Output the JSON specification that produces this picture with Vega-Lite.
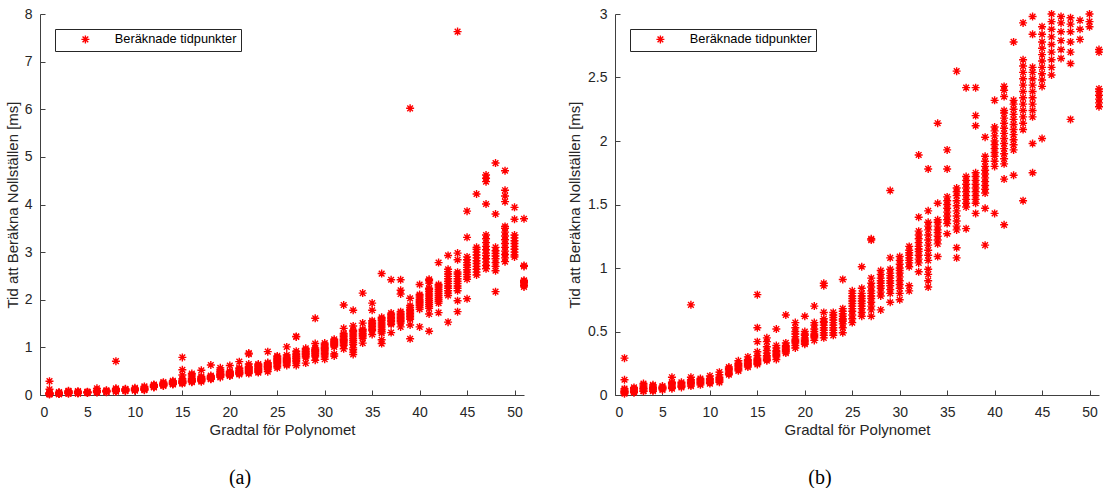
{
"$schema": "https://vega.github.io/schema/vega-lite/v6.json",
"padding": {"left": 5, "top": 7, "right": 0, "bottom": 0},
"spacing": 36,
"config": {
  "view": {"stroke": null},
  "axis": {"grid": false, "domainColor": "#404040", "domainWidth": 1, "tickColor": "#404040", "tickWidth": 1, "tickSize": -5,
    "labelFont": "Liberation Sans", "labelFontSize": 14, "labelColor": "#262626",
    "titleFont": "Liberation Sans", "titleFontSize": 15, "titleFontWeight": "normal", "titleColor": "#262626"},
  "axisX": {"labelPadding": 15, "minExtent": 25, "maxExtent": 25, "titlePadding": 2},
  "axisY": {"labelPadding": 13, "titlePadding": 3},
  "legend": {"orient": "top-left", "offset": 15, "strokeColor": "#262626", "fillColor": "white", "padding": 4,
    "labelFont": "Liberation Sans", "labelFontSize": 12.8, "labelColor": "black", "symbolOffset": 20, "labelOffset": 23,
    "symbolType": "M-1,0L1,0M0,-1L0,1M-0.71,-0.71L0.71,0.71M-0.71,0.71L0.71,-0.71", "symbolSize": 64, "symbolStrokeColor": "#ff0000", "symbolStrokeWidth": 1.4, "symbolFillColor": "transparent"},
  "title": {"font": "Liberation Serif", "fontSize": 20, "fontWeight": "normal", "color": "black"}
},
"datasets": {"pts": [
{"n":1,"t":0.01},{"n":1,"t":0.02},{"n":1,"t":0.02},{"n":1,"t":0.03},{"n":1,"t":0.03},{"n":1,"t":0.04},{"n":1,"t":0.05},{"n":1,"t":0.12},{"n":1,"t":0.29},
{"n":2,"t":0.02},{"n":2,"t":0.02},{"n":2,"t":0.03},{"n":2,"t":0.03},{"n":2,"t":0.04},{"n":2,"t":0.04},{"n":2,"t":0.05},{"n":2,"t":0.06},
{"n":3,"t":0.03},{"n":3,"t":0.03},{"n":3,"t":0.04},{"n":3,"t":0.05},{"n":3,"t":0.05},{"n":3,"t":0.06},{"n":3,"t":0.07},{"n":3,"t":0.08},{"n":3,"t":0.09},
{"n":4,"t":0.03},{"n":4,"t":0.04},{"n":4,"t":0.04},{"n":4,"t":0.05},{"n":4,"t":0.06},{"n":4,"t":0.07},{"n":4,"t":0.08},
{"n":5,"t":0.04},{"n":5,"t":0.05},{"n":5,"t":0.05},{"n":5,"t":0.06},{"n":5,"t":0.06},{"n":5,"t":0.07},
{"n":6,"t":0.05},{"n":6,"t":0.06},{"n":6,"t":0.07},{"n":6,"t":0.08},{"n":6,"t":0.09},{"n":6,"t":0.10},{"n":6,"t":0.14},
{"n":7,"t":0.06},{"n":7,"t":0.07},{"n":7,"t":0.07},{"n":7,"t":0.08},{"n":7,"t":0.09},{"n":7,"t":0.10},
{"n":8,"t":0.07},{"n":8,"t":0.08},{"n":8,"t":0.09},{"n":8,"t":0.10},{"n":8,"t":0.11},{"n":8,"t":0.12},{"n":8,"t":0.14},{"n":8,"t":0.71},
{"n":9,"t":0.08},{"n":9,"t":0.09},{"n":9,"t":0.10},{"n":9,"t":0.11},{"n":9,"t":0.12},{"n":9,"t":0.13},
{"n":10,"t":0.09},{"n":10,"t":0.10},{"n":10,"t":0.11},{"n":10,"t":0.12},{"n":10,"t":0.13},{"n":10,"t":0.15},
{"n":11,"t":0.10},{"n":11,"t":0.11},{"n":11,"t":0.12},{"n":11,"t":0.13},{"n":11,"t":0.14},{"n":11,"t":0.16},{"n":11,"t":0.18},
{"n":12,"t":0.16},{"n":12,"t":0.17},{"n":12,"t":0.18},{"n":12,"t":0.19},{"n":12,"t":0.20},{"n":12,"t":0.21},{"n":12,"t":0.22},
{"n":13,"t":0.19},{"n":13,"t":0.20},{"n":13,"t":0.21},{"n":13,"t":0.22},{"n":13,"t":0.23},{"n":13,"t":0.24},{"n":13,"t":0.25},{"n":13,"t":0.27},
{"n":14,"t":0.22},{"n":14,"t":0.23},{"n":14,"t":0.24},{"n":14,"t":0.25},{"n":14,"t":0.26},{"n":14,"t":0.27},{"n":14,"t":0.28},{"n":14,"t":0.30},
{"n":15,"t":0.24},{"n":15,"t":0.25},{"n":15,"t":0.26},{"n":15,"t":0.27},{"n":15,"t":0.28},{"n":15,"t":0.29},{"n":15,"t":0.31},{"n":15,"t":0.34},{"n":15,"t":0.42},{"n":15,"t":0.53},{"n":15,"t":0.79},
{"n":16,"t":0.27},{"n":16,"t":0.28},{"n":16,"t":0.29},{"n":16,"t":0.30},{"n":16,"t":0.31},{"n":16,"t":0.33},{"n":16,"t":0.35},{"n":16,"t":0.38},{"n":16,"t":0.42},{"n":16,"t":0.45},
{"n":17,"t":0.28},{"n":17,"t":0.30},{"n":17,"t":0.31},{"n":17,"t":0.32},{"n":17,"t":0.33},{"n":17,"t":0.34},{"n":17,"t":0.35},{"n":17,"t":0.37},{"n":17,"t":0.39},{"n":17,"t":0.52},
{"n":18,"t":0.33},{"n":18,"t":0.34},{"n":18,"t":0.35},{"n":18,"t":0.36},{"n":18,"t":0.37},{"n":18,"t":0.38},{"n":18,"t":0.39},{"n":18,"t":0.41},{"n":18,"t":0.63},
{"n":19,"t":0.37},{"n":19,"t":0.39},{"n":19,"t":0.41},{"n":19,"t":0.42},{"n":19,"t":0.43},{"n":19,"t":0.44},{"n":19,"t":0.46},{"n":19,"t":0.48},{"n":19,"t":0.50},{"n":19,"t":0.53},{"n":19,"t":0.57},
{"n":20,"t":0.40},{"n":20,"t":0.41},{"n":20,"t":0.42},{"n":20,"t":0.43},{"n":20,"t":0.44},{"n":20,"t":0.45},{"n":20,"t":0.47},{"n":20,"t":0.48},{"n":20,"t":0.50},{"n":20,"t":0.62},
{"n":21,"t":0.43},{"n":21,"t":0.45},{"n":21,"t":0.46},{"n":21,"t":0.47},{"n":21,"t":0.48},{"n":21,"t":0.50},{"n":21,"t":0.52},{"n":21,"t":0.55},{"n":21,"t":0.57},{"n":21,"t":0.70},
{"n":22,"t":0.45},{"n":22,"t":0.47},{"n":22,"t":0.49},{"n":22,"t":0.51},{"n":22,"t":0.53},{"n":22,"t":0.55},{"n":22,"t":0.57},{"n":22,"t":0.58},{"n":22,"t":0.60},{"n":22,"t":0.65},{"n":22,"t":0.86},{"n":22,"t":0.88},
{"n":23,"t":0.47},{"n":23,"t":0.49},{"n":23,"t":0.51},{"n":23,"t":0.53},{"n":23,"t":0.55},{"n":23,"t":0.57},{"n":23,"t":0.59},{"n":23,"t":0.61},{"n":23,"t":0.63},{"n":23,"t":0.65},
{"n":24,"t":0.49},{"n":24,"t":0.53},{"n":24,"t":0.56},{"n":24,"t":0.58},{"n":24,"t":0.59},{"n":24,"t":0.60},{"n":24,"t":0.62},{"n":24,"t":0.64},{"n":24,"t":0.66},{"n":24,"t":0.68},{"n":24,"t":0.91},
{"n":25,"t":0.57},{"n":25,"t":0.60},{"n":25,"t":0.63},{"n":25,"t":0.66},{"n":25,"t":0.68},{"n":25,"t":0.70},{"n":25,"t":0.72},{"n":25,"t":0.74},{"n":25,"t":0.76},{"n":25,"t":0.78},{"n":25,"t":0.80},{"n":25,"t":0.82},
{"n":26,"t":0.62},{"n":26,"t":0.65},{"n":26,"t":0.68},{"n":26,"t":0.70},{"n":26,"t":0.72},{"n":26,"t":0.74},{"n":26,"t":0.76},{"n":26,"t":0.78},{"n":26,"t":0.80},{"n":26,"t":0.84},{"n":26,"t":1.01},
{"n":27,"t":0.62},{"n":27,"t":0.67},{"n":27,"t":0.70},{"n":27,"t":0.73},{"n":27,"t":0.76},{"n":27,"t":0.78},{"n":27,"t":0.80},{"n":27,"t":0.82},{"n":27,"t":0.85},{"n":27,"t":0.88},{"n":27,"t":0.92},{"n":27,"t":1.22},{"n":27,"t":1.23},
{"n":28,"t":0.67},{"n":28,"t":0.78},{"n":28,"t":0.81},{"n":28,"t":0.84},{"n":28,"t":0.86},{"n":28,"t":0.88},{"n":28,"t":0.90},{"n":28,"t":0.92},{"n":28,"t":0.95},{"n":28,"t":0.98},
{"n":29,"t":0.73},{"n":29,"t":0.80},{"n":29,"t":0.83},{"n":29,"t":0.86},{"n":29,"t":0.88},{"n":29,"t":0.90},{"n":29,"t":0.92},{"n":29,"t":0.94},{"n":29,"t":0.96},{"n":29,"t":0.99},{"n":29,"t":1.08},{"n":29,"t":1.61},
{"n":30,"t":0.75},{"n":30,"t":0.80},{"n":30,"t":0.84},{"n":30,"t":0.87},{"n":30,"t":0.90},{"n":30,"t":0.93},{"n":30,"t":0.96},{"n":30,"t":0.98},{"n":30,"t":1.00},{"n":30,"t":1.03},{"n":30,"t":1.06},{"n":30,"t":1.09},
{"n":31,"t":0.82},{"n":31,"t":0.86},{"n":31,"t":1.01},{"n":31,"t":1.04},{"n":31,"t":1.06},{"n":31,"t":1.08},{"n":31,"t":1.10},{"n":31,"t":1.12},{"n":31,"t":1.14},{"n":31,"t":1.17},
{"n":32,"t":0.97},{"n":32,"t":1.04},{"n":32,"t":1.07},{"n":32,"t":1.10},{"n":32,"t":1.13},{"n":32,"t":1.15},{"n":32,"t":1.17},{"n":32,"t":1.20},{"n":32,"t":1.23},{"n":32,"t":1.26},{"n":32,"t":1.29},{"n":32,"t":1.40},{"n":32,"t":1.89},
{"n":33,"t":0.85},{"n":33,"t":0.90},{"n":33,"t":0.95},{"n":33,"t":0.99},{"n":33,"t":1.06},{"n":33,"t":1.10},{"n":33,"t":1.14},{"n":33,"t":1.18},{"n":33,"t":1.22},{"n":33,"t":1.26},{"n":33,"t":1.30},{"n":33,"t":1.33},{"n":33,"t":1.36},{"n":33,"t":1.45},{"n":33,"t":1.78},
{"n":34,"t":1.09},{"n":34,"t":1.19},{"n":34,"t":1.22},{"n":34,"t":1.25},{"n":34,"t":1.28},{"n":34,"t":1.30},{"n":34,"t":1.33},{"n":34,"t":1.36},{"n":34,"t":1.38},{"n":34,"t":1.51},{"n":34,"t":2.14},
{"n":35,"t":1.27},{"n":35,"t":1.35},{"n":35,"t":1.38},{"n":35,"t":1.41},{"n":35,"t":1.44},{"n":35,"t":1.47},{"n":35,"t":1.50},{"n":35,"t":1.53},{"n":35,"t":1.56},{"n":35,"t":1.78},{"n":35,"t":1.93},
{"n":36,"t":1.08},{"n":36,"t":1.16},{"n":36,"t":1.30},{"n":36,"t":1.33},{"n":36,"t":1.37},{"n":36,"t":1.41},{"n":36,"t":1.45},{"n":36,"t":1.49},{"n":36,"t":1.53},{"n":36,"t":1.57},{"n":36,"t":1.60},{"n":36,"t":1.63},{"n":36,"t":2.55},
{"n":37,"t":1.31},{"n":37,"t":1.48},{"n":37,"t":1.51},{"n":37,"t":1.54},{"n":37,"t":1.57},{"n":37,"t":1.60},{"n":37,"t":1.63},{"n":37,"t":1.66},{"n":37,"t":1.69},{"n":37,"t":1.72},{"n":37,"t":2.42},
{"n":38,"t":1.43},{"n":38,"t":1.51},{"n":38,"t":1.54},{"n":38,"t":1.57},{"n":38,"t":1.60},{"n":38,"t":1.63},{"n":38,"t":1.66},{"n":38,"t":1.69},{"n":38,"t":1.72},{"n":38,"t":1.75},{"n":38,"t":2.12},{"n":38,"t":2.20},{"n":38,"t":2.42},
{"n":39,"t":1.18},{"n":39,"t":1.47},{"n":39,"t":1.59},{"n":39,"t":1.62},{"n":39,"t":1.65},{"n":39,"t":1.68},{"n":39,"t":1.71},{"n":39,"t":1.74},{"n":39,"t":1.77},{"n":39,"t":1.80},{"n":39,"t":1.84},{"n":39,"t":1.88},{"n":39,"t":2.03},{"n":39,"t":6.02},
{"n":40,"t":1.43},{"n":40,"t":1.80},{"n":40,"t":1.84},{"n":40,"t":1.88},{"n":40,"t":1.91},{"n":40,"t":1.94},{"n":40,"t":1.97},{"n":40,"t":2.00},{"n":40,"t":2.04},{"n":40,"t":2.08},{"n":40,"t":2.11},{"n":40,"t":2.32},
{"n":41,"t":1.34},{"n":41,"t":1.70},{"n":41,"t":1.82},{"n":41,"t":1.86},{"n":41,"t":1.90},{"n":41,"t":1.94},{"n":41,"t":1.98},{"n":41,"t":2.02},{"n":41,"t":2.06},{"n":41,"t":2.10},{"n":41,"t":2.14},{"n":41,"t":2.18},{"n":41,"t":2.22},{"n":41,"t":2.24},{"n":41,"t":2.35},{"n":41,"t":2.40},{"n":41,"t":2.43},
{"n":42,"t":1.73},{"n":42,"t":1.93},{"n":42,"t":1.97},{"n":42,"t":2.01},{"n":42,"t":2.05},{"n":42,"t":2.09},{"n":42,"t":2.13},{"n":42,"t":2.17},{"n":42,"t":2.21},{"n":42,"t":2.25},{"n":42,"t":2.29},{"n":42,"t":2.32},{"n":42,"t":2.78},
{"n":43,"t":1.53},{"n":43,"t":2.09},{"n":43,"t":2.14},{"n":43,"t":2.19},{"n":43,"t":2.24},{"n":43,"t":2.29},{"n":43,"t":2.34},{"n":43,"t":2.39},{"n":43,"t":2.44},{"n":43,"t":2.49},{"n":43,"t":2.54},{"n":43,"t":2.59},{"n":43,"t":2.64},{"n":43,"t":2.93},
{"n":44,"t":1.75},{"n":44,"t":1.98},{"n":44,"t":2.19},{"n":44,"t":2.24},{"n":44,"t":2.29},{"n":44,"t":2.34},{"n":44,"t":2.39},{"n":44,"t":2.44},{"n":44,"t":2.49},{"n":44,"t":2.54},{"n":44,"t":2.58},{"n":44,"t":2.84},{"n":44,"t":2.98},{"n":44,"t":7.63},
{"n":45,"t":2.02},{"n":45,"t":2.43},{"n":45,"t":2.48},{"n":45,"t":2.53},{"n":45,"t":2.58},{"n":45,"t":2.63},{"n":45,"t":2.68},{"n":45,"t":2.73},{"n":45,"t":2.78},{"n":45,"t":2.84},{"n":45,"t":2.90},{"n":45,"t":3.31},{"n":45,"t":3.86},
{"n":46,"t":2.52},{"n":46,"t":2.58},{"n":46,"t":2.64},{"n":46,"t":2.70},{"n":46,"t":2.76},{"n":46,"t":2.82},{"n":46,"t":2.88},{"n":46,"t":2.94},{"n":46,"t":3.00},{"n":46,"t":3.06},{"n":46,"t":3.10},{"n":46,"t":4.22},
{"n":47,"t":2.65},{"n":47,"t":2.72},{"n":47,"t":2.79},{"n":47,"t":2.86},{"n":47,"t":2.93},{"n":47,"t":2.98},{"n":47,"t":3.05},{"n":47,"t":3.12},{"n":47,"t":3.20},{"n":47,"t":3.28},{"n":47,"t":3.36},{"n":47,"t":4.01},{"n":47,"t":4.48},{"n":47,"t":4.55},{"n":47,"t":4.62},
{"n":48,"t":2.17},{"n":48,"t":2.61},{"n":48,"t":2.70},{"n":48,"t":2.78},{"n":48,"t":2.86},{"n":48,"t":2.92},{"n":48,"t":2.97},{"n":48,"t":3.03},{"n":48,"t":3.10},{"n":48,"t":3.80},{"n":48,"t":4.87},
{"n":49,"t":2.80},{"n":49,"t":2.88},{"n":49,"t":2.95},{"n":49,"t":3.02},{"n":49,"t":3.10},{"n":49,"t":3.18},{"n":49,"t":3.26},{"n":49,"t":3.34},{"n":49,"t":3.42},{"n":49,"t":3.50},{"n":49,"t":3.54},{"n":49,"t":4.06},{"n":49,"t":4.18},{"n":49,"t":4.30},{"n":49,"t":4.71},
{"n":50,"t":2.90},{"n":50,"t":2.94},{"n":50,"t":3.00},{"n":50,"t":3.06},{"n":50,"t":3.12},{"n":50,"t":3.18},{"n":50,"t":3.24},{"n":50,"t":3.30},{"n":50,"t":3.36},{"n":50,"t":3.69},{"n":50,"t":3.94},
{"n":51,"t":2.27},{"n":51,"t":2.30},{"n":51,"t":2.33},{"n":51,"t":2.36},{"n":51,"t":2.39},{"n":51,"t":2.41},{"n":51,"t":2.70},{"n":51,"t":2.72},{"n":51,"t":3.70}
]},
"hconcat": [
  {
    "width": 484, "height": 381,
    "data": {"name": "pts"},
    "title": {"text": "(a)", "orient": "bottom", "anchor": "middle", "frame": "group", "dx": -42, "offset": 31},
    "mark": {"type": "point", "shape": "M-1,0L1,0M0,-1L0,1M-0.71,-0.71L0.71,0.71M-0.71,0.71L0.71,-0.71", "filled": false, "size": 64, "strokeWidth": 1.4, "opacity": 1},
    "encoding": {
      "x": {"field": "n", "type": "quantitative", "scale": {"domain": [0, 51], "nice": false}, "axis": {"title": "Gradtal för Polynomet", "values": [0,5,10,15,20,25,30,35,40,45,50]}},
      "y": {"field": "t", "type": "quantitative", "scale": {"domain": [0, 8], "nice": false}, "axis": {"title": "Tid att Beräkna Nollställen [ms]", "values": [0,1,2,3,4,5,6,7,8], "minExtent": 17, "maxExtent": 17}},
      "color": {"datum": "Beräknade tidpunkter", "type": "nominal", "scale": {"range": ["#ff0000"]}, "legend": {"title": null}}
    }
  },
  {
    "width": 484, "height": 381,
    "data": {"name": "pts"},
    "transform": [{"filter": "datum.t <= 3"}],
    "title": {"text": "(b)", "orient": "bottom", "anchor": "middle", "frame": "group", "dx": -37, "offset": 31},
    "mark": {"type": "point", "shape": "M-1,0L1,0M0,-1L0,1M-0.71,-0.71L0.71,0.71M-0.71,0.71L0.71,-0.71", "filled": false, "size": 64, "strokeWidth": 1.4, "opacity": 1},
    "encoding": {
      "x": {"field": "n", "type": "quantitative", "scale": {"domain": [0, 51], "nice": false}, "axis": {"title": "Gradtal för Polynomet", "values": [0,5,10,15,20,25,30,35,40,45,50]}},
      "y": {"field": "t", "type": "quantitative", "scale": {"domain": [0, 3], "nice": false}, "axis": {"title": "Tid att Beräkna Nollställen [ms]", "values": [0,0.5,1,1.5,2,2.5,3], "format": "~g", "minExtent": 30, "maxExtent": 30}},
      "color": {"datum": "Beräknade tidpunkter", "type": "nominal", "scale": {"range": ["#ff0000"]}, "legend": {"title": null}}
    }
  }
],
"resolve": {"scale": {"color": "independent"}, "legend": {"color": "independent"}}
}
